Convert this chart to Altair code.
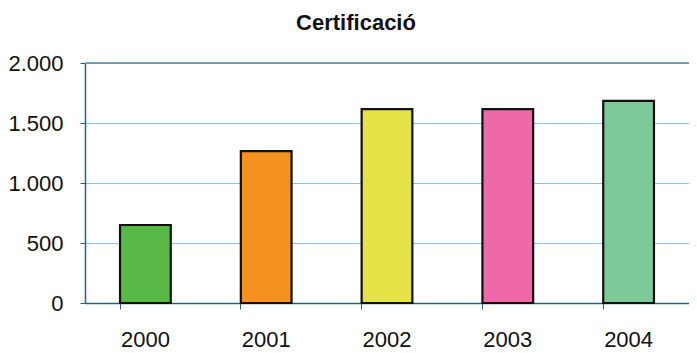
import altair as alt
import pandas as pd

years = ["2000", "2001", "2002", "2003", "2004"]
values = [650, 1265, 1615, 1615, 1685]
colors = ["#58b947", "#f4921f", "#e4e346", "#ef69a8", "#7ec99a"]
y_ticks = [0, 500, 1000, 1500, 2000]
title = "Certificació"

df = pd.DataFrame({"year": years, "value": values, "color": colors})

font = "Liberation Sans"

bars = alt.Chart(df).mark_bar(stroke="#111111", strokeWidth=2.2).encode(
    x=alt.X("year:N", sort=years, title=None,
            scale=alt.Scale(paddingInner=0.58, paddingOuter=0.29),
            axis=alt.Axis(labelAngle=0, labelFontSize=22, labelFont=font,
                          labelColor="#111111", labelPadding=20,
                          bandPosition=0, tickSize=6, tickColor="#2f5f78",
                          domainColor="#2f5f78", domainWidth=1.5, grid=False)),
    y=alt.Y("value:Q", title=None,
            scale=alt.Scale(domain=[0, 2000], nice=False),
            axis=alt.Axis(values=y_ticks, labelFontSize=22, labelFont=font,
                          labelColor="#111111", labelPadding=17,
                          tickSize=5, tickColor="#2f5f78",
                          domainColor="#2f5f78", domainWidth=1.5,
                          gridColor="#8dc3e0", gridWidth=1.2,
                          labelExpr="replace(format(datum.value, ','), ',', '.')")),
    color=alt.Color("color:N", scale=None),
)

top = alt.Chart(pd.DataFrame({"v": [y_ticks[-1]]})).mark_rule(
    color="#5b8ba2", strokeWidth=1.5).encode(y="v:Q")

chart = alt.layer(bars, top).properties(
    width=604, height=240,
    title=alt.Title(title, fontSize=22, font=font, fontWeight="bold",
                    color="#111111", anchor="middle", dx=-31, offset=17),
    autosize=alt.AutoSizeParams(type="none"),
    padding={"left": 77, "top": 55, "right": 0, "bottom": 50},
).configure_view(stroke=None)

chart.save("out.html", embed_options={"renderer": "svg", "actions": False})
